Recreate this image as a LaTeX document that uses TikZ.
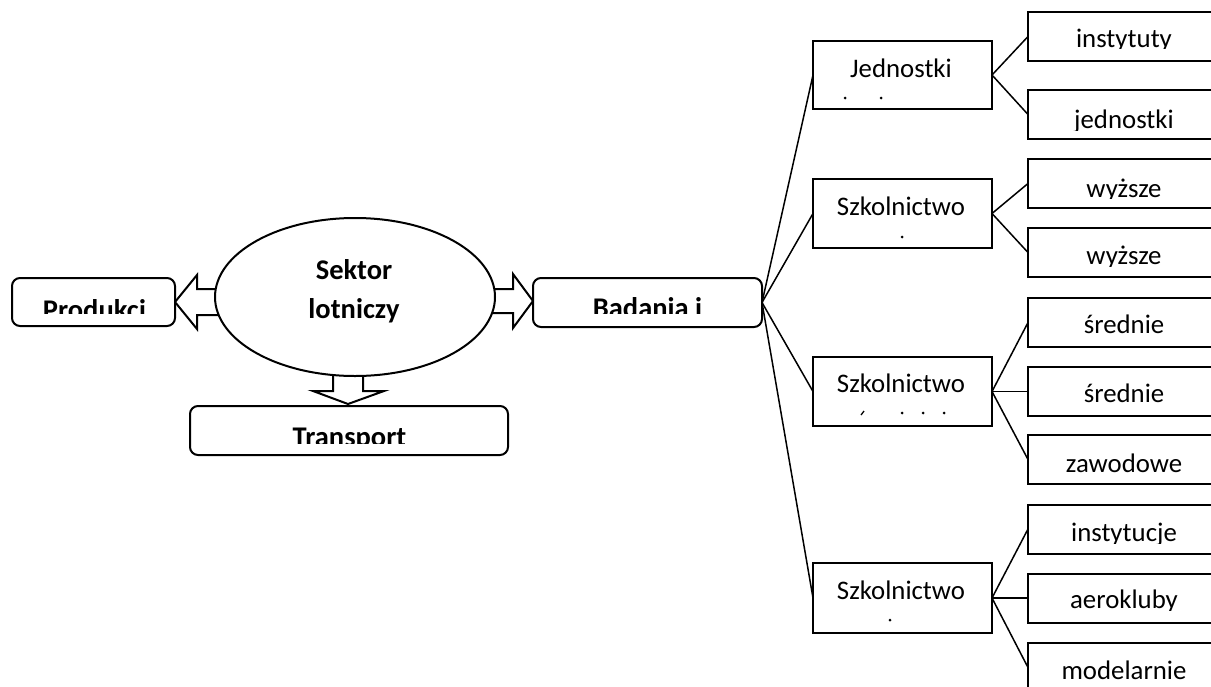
\documentclass[tikz,border=0pt]{standalone}
\usepackage{fontspec}
\setmainfont{Carlito}
\usetikzlibrary{shapes.geometric}
\newcommand\boldtxt{\fontsize{28.5}{32}\selectfont\bfseries}
\newcommand\regtxt{\fontsize{26.8}{30}\selectfont}
\newcommand\cliptext[6]{\begin{scope}\clip (0,#4) rectangle (1211,#5);\node[txt,anchor=base] (#1) at (#2,#3) {#6};\end{scope}}
\begin{document}
\begin{tikzpicture}[x=1pt,y=-1pt,
  txt/.style={inner sep=0pt,outer sep=0pt},
  rbox/.style={draw,line width=2pt,rounded corners=8pt,inner sep=0pt,outer sep=0pt,fill=white},
  sbox/.style={draw,line width=2pt,inner sep=0pt,outer sep=0pt,minimum width=179pt},
  tbox/.style={draw,line width=2pt,inner sep=0pt,outer sep=0pt,minimum width=192pt,minimum height=49pt},
  conn/.style={line width=1.5pt},
  barrow/.style={draw,line width=2pt,line join=miter,fill=white},
  dotm/.style={fill=black}]
\useasboundingbox (0,0) rectangle (1211,686);
\clip (0,0) rectangle (1211,686);
% hollow block arrows
\draw[barrow] (240,289) -- (197,289) -- (197,275) -- (175,302) -- (197,329) -- (197,315) -- (240,315) -- cycle;
\draw[barrow] (470,289) -- (513,289) -- (513,274) -- (533,301) -- (513,328) -- (513,313) -- (470,313) -- cycle;
\draw[barrow] (333,350) -- (333,391) -- (313,391) -- (348,404) -- (384,391) -- (363,391) -- (363,350) -- cycle;
% central ellipse
\node[ellipse,draw,line width=2pt,fill=white,minimum width=280pt,minimum height=158pt,inner sep=0pt] (sek) at (355,297) {};
\node[txt,anchor=base] (sekA) at (354,279.3) {\boldtxt Sektor};
\node[txt,anchor=base] (sekB) at (354,318.3) {\boldtxt lotniczy};
% rounded boxes
\node[rbox,minimum width=163pt,minimum height=48pt] (prod) at (93.5,302) {};
\node[rbox,minimum width=229pt,minimum height=49pt] (bad) at (647.5,302.5) {};
\node[rbox,minimum width=318pt,minimum height=49pt] (trans) at (349,430.5) {};
\cliptext{prodT}{94.5}{319}{280}{313}{\boldtxt Produkcj}
\cliptext{badT}{647.5}{317}{280}{313}{\boldtxt Badania i}
\cliptext{transT}{349.5}{446}{408}{443}{\boldtxt Transport}
% second level boxes
\node[sbox,minimum height=68pt] (j1) at (902.5,75) {};
\node[sbox,minimum height=69pt] (s1) at (902.5,213.5) {};
\node[sbox,minimum height=69pt] (s2) at (902.5,391.5) {};
\node[sbox,minimum height=70pt] (s3) at (902.5,598) {};
\node[txt,anchor=base] (j1T) at (901,77.3) {\regtxt Jednostki};
\node[txt,anchor=base] (s1T) at (901,215) {\regtxt Szkolnictwo};
\node[txt,anchor=base] (s2T) at (901,392.7) {\regtxt Szkolnictwo};
\node[txt,anchor=base] (s3T) at (901,599.3) {\regtxt Szkolnictwo};
% remnants of clipped second lines
\fill[dotm] (845,98) circle (1.5);
\fill[dotm] (881,98) circle (1.5);
\fill[dotm] (902,237) circle (1.5);
\draw[line width=1.3pt] (861,415) -- (864,411);
\fill[dotm] (902,413) circle (1.5);
\fill[dotm] (923,413) circle (1.5);
\fill[dotm] (944,413) circle (1.5);
\fill[dotm] (890,620) circle (1.5);
% third level boxes
\node[tbox] (r1) at (1124,36.5) {};
\node[tbox] (r2) at (1124,114.5) {};
\node[tbox] (r3) at (1124,183.5) {};
\node[tbox] (r4) at (1124,252.5) {};
\node[tbox] (r5) at (1124,322.5) {};
\node[tbox] (r6) at (1124,391.5) {};
\node[tbox] (r7) at (1124,459.5) {};
\node[tbox] (r8) at (1124,529) {};
\node[tbox] (r9) at (1124,598) {};
\node[tbox] (r10) at (1124,667.5) {};
\cliptext{r1T}{1124}{47}{14}{48.5}{\regtxt instytuty}
\cliptext{r2T}{1124}{128}{92}{130}{\regtxt jednostki}
\cliptext{r3T}{1124}{197}{161}{198.5}{\regtxt wyższe}
\cliptext{r4T}{1124}{264}{230}{266}{\regtxt wyższe}
\cliptext{r5T}{1124}{333}{300}{337}{\regtxt średnie}
\cliptext{r6T}{1124}{402}{368}{406}{\regtxt średnie}
\cliptext{r7T}{1124}{472}{437}{476}{\regtxt zawodowe}
\cliptext{r8T}{1124}{541}{507}{543}{\regtxt instytucje}
\cliptext{r9T}{1124}{608}{575}{610}{\regtxt aerokluby}
\cliptext{r10T}{1124}{679}{645}{686}{\regtxt modelarnie}
% connectors
\draw[conn] (bad.east) -- (j1.west);
\draw[conn] (bad.east) -- (s1.west);
\draw[conn] (bad.east) -- (s2.west);
\draw[conn] (bad.east) -- (s3.west);
\draw[conn] (j1.east) -- (r1.west);
\draw[conn] (j1.east) -- (r2.west);
\draw[conn] (s1.east) -- (r3.west);
\draw[conn] (s1.east) -- (r4.west);
\draw[conn] (s2.east) -- (r5.west);
\draw[conn] (s2.east) -- (r6.west);
\draw[conn] (s2.east) -- (r7.west);
\draw[conn] (s3.east) -- (r8.west);
\draw[conn] (s3.east) -- (r9.west);
\draw[conn] (s3.east) -- (r10.west);
\end{tikzpicture}
\end{document}
